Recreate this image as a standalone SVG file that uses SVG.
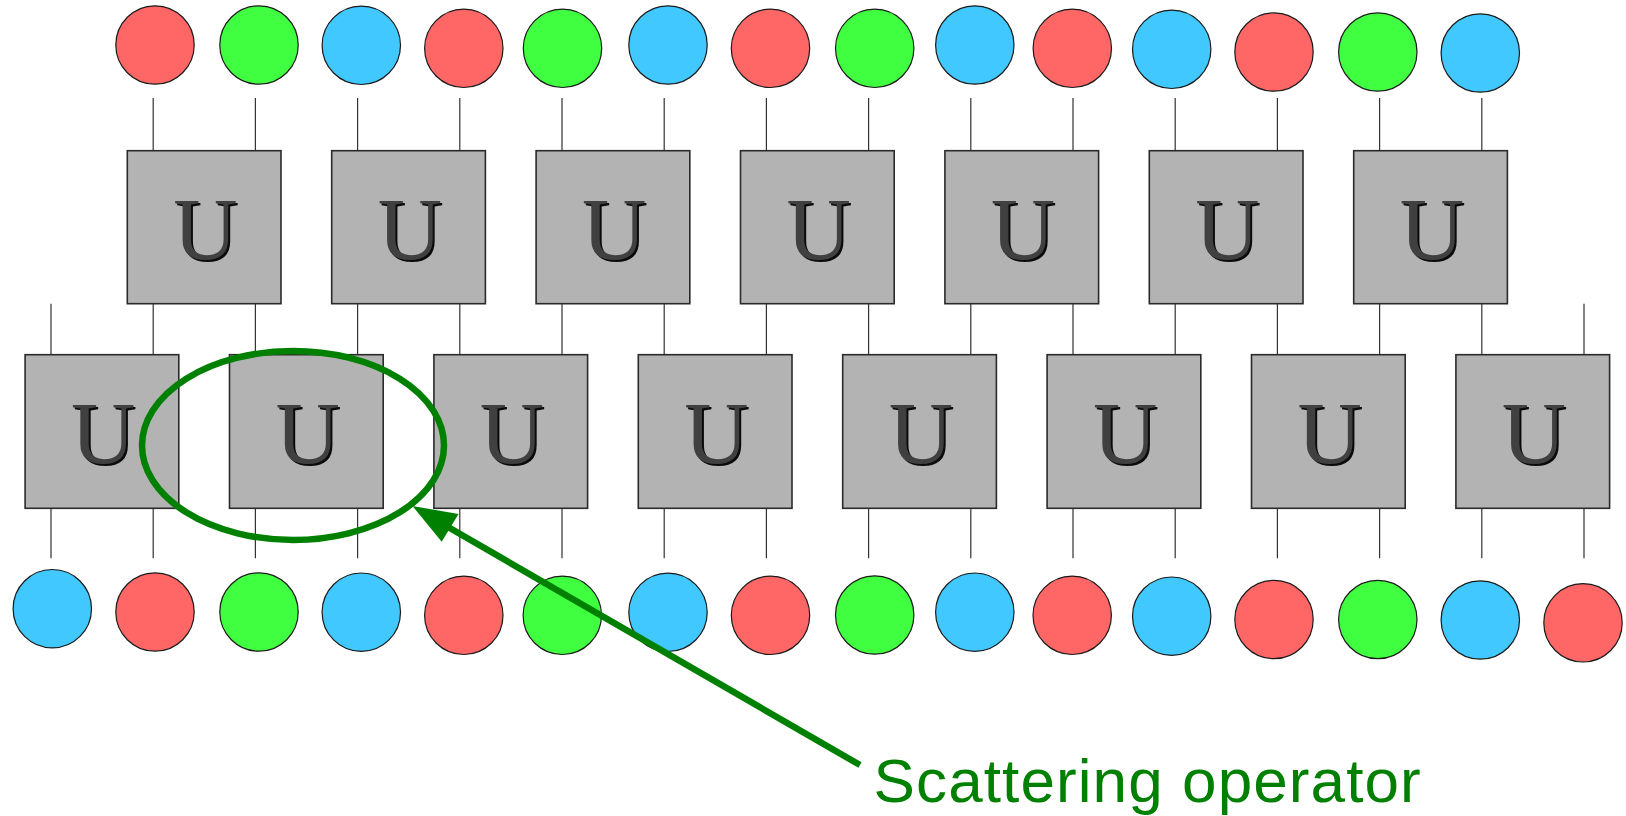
<svg xmlns="http://www.w3.org/2000/svg" width="1626" height="816" viewBox="0 0 1626 816">
<style>
.r{fill:#ff6666}.g{fill:#40ff40}.b{fill:#40c8ff}
circle,ellipse.q{stroke:#1a1a1a;stroke-width:1.2}
.box{fill:#b3b3b3;stroke:#2a2a2a;stroke-width:1.6}
.w{stroke:#333;stroke-width:1.2;fill:none}
.u{font-family:"Liberation Serif","Times New Roman",serif;font-size:89px;text-anchor:middle}
.us{fill:#0a0a0a}.um{fill:#404040}
.lbl{font-family:"Liberation Sans",Arial,sans-serif;font-size:62px;letter-spacing:1.1px;fill:#008000}
</style>
<defs>
<g id="U"><text class="u us" x="2" y="2">U</text><text class="u um" x="0" y="0">U</text></g>
</defs>
<rect width="1626" height="816" fill="#fff"/>
<g id="wires" class="w">
<path d="M153.2 98V150.7M255.4 98V150.7M357.6 98V150.7M459.8 98V150.7M562 98V150.7M664.2 98V150.7M766.4 98V150.7M868.6 98V150.7M970.8 98V150.7M1073 98V150.7M1175.2 98V150.7M1277.4 98V150.7M1379.6 98V150.7M1481.8 98V150.7"/>
<path d="M51 303.7V354.7M153.2 303.7V354.7M255.4 303.7V354.7M357.6 303.7V354.7M459.8 303.7V354.7M562 303.7V354.7M664.2 303.7V354.7M766.4 303.7V354.7M868.6 303.7V354.7M970.8 303.7V354.7M1073 303.7V354.7M1175.2 303.7V354.7M1277.4 303.7V354.7M1379.6 303.7V354.7M1481.8 303.7V354.7M1584 303.7V354.7"/>
<path d="M51 508.3V558.3M153.2 508.3V558.3M255.4 508.3V558.3M357.6 508.3V558.3M459.8 508.3V558.3M562 508.3V558.3M664.2 508.3V558.3M766.4 508.3V558.3M868.6 508.3V558.3M970.8 508.3V558.3M1073 508.3V558.3M1175.2 508.3V558.3M1277.4 508.3V558.3M1379.6 508.3V558.3M1481.8 508.3V558.3M1584 508.3V558.3"/>
</g>
<g id="top-qubits">
<circle class="r" cx="155" cy="45" r="39.2"/>
<circle class="g" cx="259" cy="45" r="39.2"/>
<circle class="b" cx="361.3" cy="45.3" r="39.2"/>
<circle class="r" cx="463.8" cy="48.3" r="39.2"/>
<circle class="g" cx="562.5" cy="48.3" r="39.2"/>
<circle class="b" cx="668" cy="45" r="39.2"/>
<circle class="r" cx="770.5" cy="48.3" r="39.2"/>
<circle class="g" cx="874.7" cy="48.3" r="39.2"/>
<circle class="b" cx="974.8" cy="45" r="39.2"/>
<circle class="r" cx="1072.3" cy="48.3" r="39.2"/>
<circle class="b" cx="1171.7" cy="49.3" r="39.2"/>
<circle class="r" cx="1274" cy="52" r="39.2"/>
<circle class="g" cx="1377.8" cy="52" r="39.2"/>
<circle class="b" cx="1480.3" cy="53" r="39.2"/>
</g>
<g id="bottom-qubits">
<circle class="b" cx="52.3" cy="608.7" r="39.2"/>
<circle class="r" cx="155" cy="612" r="39.2"/>
<circle class="g" cx="259" cy="612" r="39.2"/>
<circle class="b" cx="361.3" cy="612.2" r="39.2"/>
<circle class="r" cx="463.8" cy="615.3" r="39.2"/>
<circle class="g" cx="562.3" cy="615.3" r="39.2"/>
<circle class="b" cx="668" cy="612.3" r="39.2"/>
<circle class="r" cx="770.5" cy="615.3" r="39.2"/>
<circle class="g" cx="874.7" cy="615" r="39.2"/>
<circle class="b" cx="974.8" cy="612.2" r="39.2"/>
<circle class="r" cx="1072.2" cy="615.3" r="39.2"/>
<circle class="b" cx="1171.7" cy="616.2" r="39.2"/>
<circle class="r" cx="1274" cy="619.5" r="39.2"/>
<circle class="g" cx="1377.8" cy="619.5" r="39.2"/>
<circle class="b" cx="1480.3" cy="620" r="39.2"/>
<circle class="r" cx="1583" cy="622.8" r="39.2"/>
</g>
<g id="top-gate-1"><rect class="box" x="127.3" y="150.7" width="153.7" height="153"/><use href="#U" x="205.4" y="258.7"/></g>
<g id="top-gate-2"><rect class="box" x="331.7" y="150.7" width="153.7" height="153"/><use href="#U" x="409.8" y="258.7"/></g>
<g id="top-gate-3"><rect class="box" x="536.1" y="150.7" width="153.7" height="153"/><use href="#U" x="614.2" y="258.7"/></g>
<g id="top-gate-4"><rect class="box" x="740.5" y="150.7" width="153.7" height="153"/><use href="#U" x="818.6" y="258.7"/></g>
<g id="top-gate-5"><rect class="box" x="944.9" y="150.7" width="153.7" height="153"/><use href="#U" x="1023" y="258.7"/></g>
<g id="top-gate-6"><rect class="box" x="1149.3" y="150.7" width="153.7" height="153"/><use href="#U" x="1227.4" y="258.7"/></g>
<g id="top-gate-7"><rect class="box" x="1353.7" y="150.7" width="153.7" height="153"/><use href="#U" x="1431.8" y="258.7"/></g>
<g id="bottom-gate-1"><rect class="box" x="25.1" y="354.7" width="153.7" height="153.6"/><use href="#U" x="103.2" y="462.9"/></g>
<g id="bottom-gate-2"><rect class="box" x="229.5" y="354.7" width="153.7" height="153.6"/><use href="#U" x="307.6" y="462.9"/></g>
<g id="bottom-gate-3"><rect class="box" x="433.9" y="354.7" width="153.7" height="153.6"/><use href="#U" x="512" y="462.9"/></g>
<g id="bottom-gate-4"><rect class="box" x="638.3" y="354.7" width="153.7" height="153.6"/><use href="#U" x="716.4" y="462.9"/></g>
<g id="bottom-gate-5"><rect class="box" x="842.7" y="354.7" width="153.7" height="153.6"/><use href="#U" x="920.8" y="462.9"/></g>
<g id="bottom-gate-6"><rect class="box" x="1047.1" y="354.7" width="153.7" height="153.6"/><use href="#U" x="1125.2" y="462.9"/></g>
<g id="bottom-gate-7"><rect class="box" x="1251.5" y="354.7" width="153.7" height="153.6"/><use href="#U" x="1329.6" y="462.9"/></g>
<g id="bottom-gate-8"><rect class="box" x="1455.9" y="354.7" width="153.7" height="153.6"/><use href="#U" x="1534" y="462.9"/></g>
<g id="annotation">
<ellipse cx="293" cy="445.5" rx="151" ry="94.5" fill="none" stroke="#008000" stroke-width="6.5"/>
<path d="M860 765L448 527" stroke="#008000" stroke-width="6.5" fill="none"/>
<polygon points="412.5,506 441.7,541.7 458.5,514" fill="#008000"/>
<text class="lbl" x="873.6" y="801.7">Scattering operator</text>
</g>
</svg>
